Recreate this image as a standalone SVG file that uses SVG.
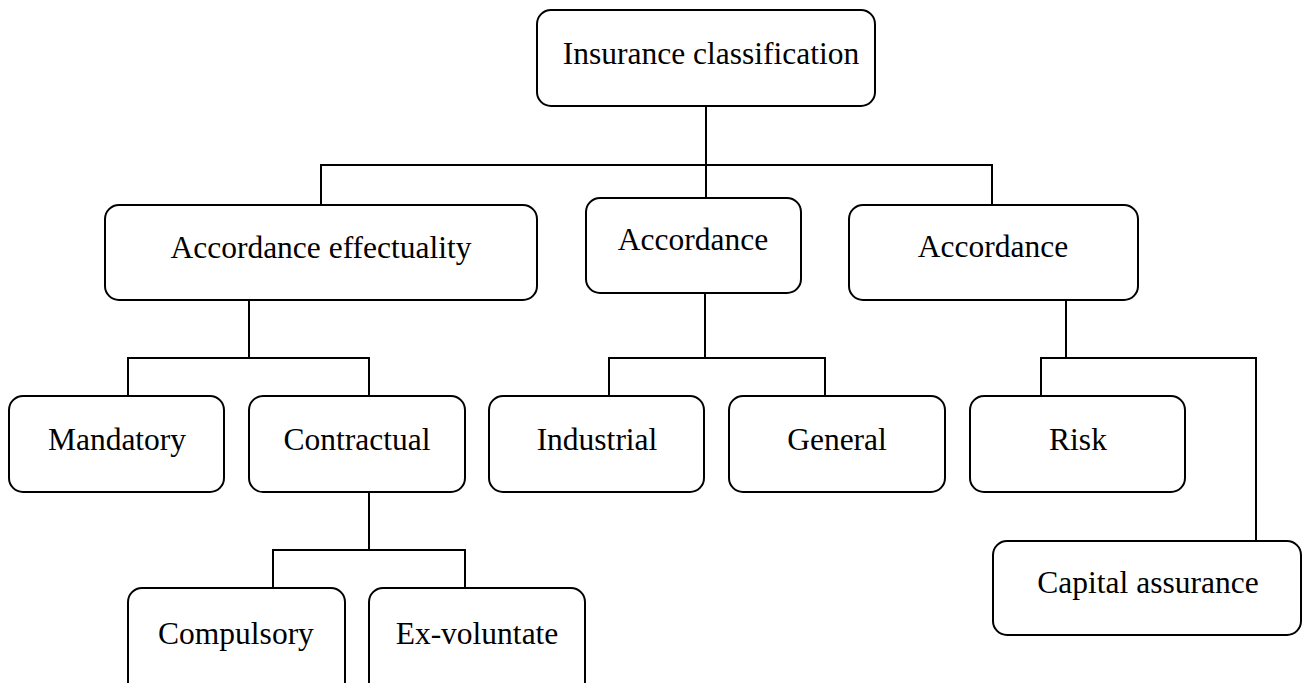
<svg xmlns="http://www.w3.org/2000/svg" width="1304" height="683" viewBox="0 0 1304 683">
<style>
.box{fill:#fff;stroke:#000;stroke-width:2}
.lbl{font-family:"Liberation Serif","Times New Roman",serif;font-size:31.5px;fill:#000;text-anchor:middle}
.conn{fill:none;stroke:#000;stroke-width:2}
</style>
<rect width="1304" height="683" fill="#fff"/>
<g id="connectors" class="conn">
<path d="M706 106V198M321 205V165H992V205"/>
<path d="M249 300V358M128 396V358H369V396"/>
<path d="M369 492V550M273 588V550H465V588"/>
<path d="M705 293V358M609 396V358H825V396"/>
<path d="M1066 300V358M1041 396V358H1256V541"/>
</g>
<g id="n-root"><rect class="box" x="537" y="10" width="338" height="96" rx="14"/><text class="lbl" x="711" y="64">Insurance classification</text></g>
<g id="n-effect"><rect class="box" x="105" y="205" width="432" height="95" rx="14"/><text class="lbl" x="321" y="258">Accordance effectuality</text></g>
<g id="n-acc-mid"><rect class="box" x="586" y="198" width="215" height="95" rx="14"/><text class="lbl" x="693" y="250">Accordance</text></g>
<g id="n-acc-right"><rect class="box" x="849" y="205" width="289" height="95" rx="14"/><text class="lbl" x="993" y="257">Accordance</text></g>
<g id="n-mandatory"><rect class="box" x="9" y="396" width="215" height="96" rx="14"/><text class="lbl" x="117" y="450">Mandatory</text></g>
<g id="n-contractual"><rect class="box" x="249" y="396" width="216" height="96" rx="14"/><text class="lbl" x="357" y="450">Contractual</text></g>
<g id="n-industrial"><rect class="box" x="489" y="396" width="215" height="96" rx="14"/><text class="lbl" x="597" y="450">Industrial</text></g>
<g id="n-general"><rect class="box" x="729" y="396" width="216" height="96" rx="14"/><text class="lbl" x="837" y="450">General</text></g>
<g id="n-risk"><rect class="box" x="970" y="396" width="215" height="96" rx="14"/><text class="lbl" x="1078" y="450">Risk</text></g>
<g id="n-compulsory"><rect class="box" x="128" y="588" width="217" height="110" rx="14"/><text class="lbl" x="236" y="644">Compulsory</text></g>
<g id="n-exvol"><rect class="box" x="369" y="588" width="216" height="110" rx="14"/><text class="lbl" x="477" y="644">Ex-voluntate</text></g>
<g id="n-capital"><rect class="box" x="993" y="541" width="308" height="94" rx="14"/><text class="lbl" x="1148" y="593">Capital assurance</text></g>
</svg>
